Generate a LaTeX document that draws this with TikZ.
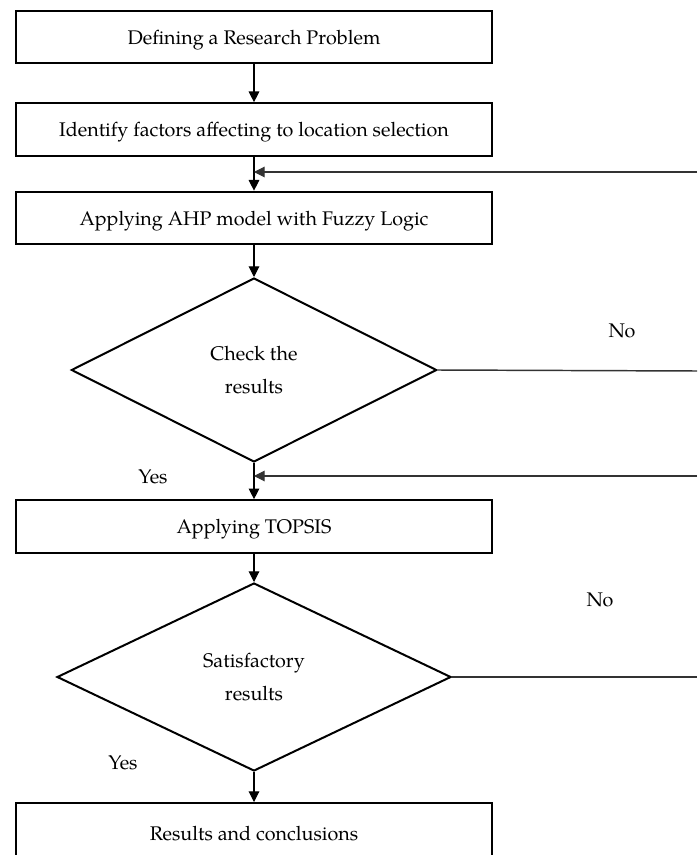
\documentclass[tikz,border=0pt]{standalone}
\usepackage{fontspec}
\setmainfont{TeX Gyre Pagella}
\usetikzlibrary{arrows.meta,positioning,shapes.geometric}

\begin{document}
\begin{tikzpicture}[x=0.75pt, y=0.75pt,
  stepbox/.style={draw, line width=1.5pt, minimum width=357pt, minimum height=39.5pt, inner sep=0pt, text depth=0pt, align=center, font=\fontsize{14.8}{17}\selectfont},
  check/.style={draw, line width=1.5pt, diamond, inner sep=0pt, align=center, font=\fontsize{14.8}{25}\selectfont},
  label/.style={font=\fontsize{14.8}{17}\selectfont},
  arrow/.style={-{Triangle[length=8pt,width=8pt]}, line width=0.8pt},
  loop/.style={line width=1.1pt, color=black!80}
]
  \useasboundingbox (0,0) rectangle (697,-855);
  \clip (0,0) rectangle (697,-855);

  \node[stepbox] (problem) at (254,-37) {Defining a Research Problem};
  \node[stepbox] (factors) at (254,-129.5) {Identify factors affecting to location selection};
  \node[stepbox] (ahp) at (254,-218) {Applying AHP model with Fuzzy Logic};
  \node[check, minimum width=274pt, minimum height=138pt] (check) at (254,-370) {Check the\\results};
  \node[stepbox] (topsis) at (254,-526.5) {Applying TOPSIS};
  \node[check, minimum width=295.5pt, minimum height=141pt] (satisfy) at (254,-677) {Satisfactory\\results};
  \node[stepbox, minimum height=45pt] (results) at (254,-833) {Results and conclusions};

  \node[label] (yes1) at (153,-477) {Yes};
  \node[label] (no1) at (622,-331) {No};
  \node[label] (yes2) at (123,-763) {Yes};
  \node[label] (no2) at (600,-600) {No};

  \coordinate (edge1) at (697,-172);
  \coordinate (join1) at (254,-172);
  \coordinate (edge2) at (697,-371);
  \coordinate (edge3) at (697,-476);
  \coordinate (join2) at (254,-476);
  \coordinate (edge4) at (697,-677);

  \draw[arrow] (problem) -- (factors);
  \draw[arrow] (factors) -- (ahp);
  \draw[arrow] (ahp) -- (check);
  \draw[arrow] (check) -- (topsis);
  \draw[arrow] (topsis) -- (satisfy);
  \draw[arrow] (satisfy) -- (results);

  \draw[loop] (check.east) -- (edge2);
  \draw[loop] (satisfy.east) -- (edge4);
  \draw[loop, arrow] (edge1) -- (join1);
  \draw[loop, arrow] (edge3) -- (join2);
\end{tikzpicture}
\end{document}
